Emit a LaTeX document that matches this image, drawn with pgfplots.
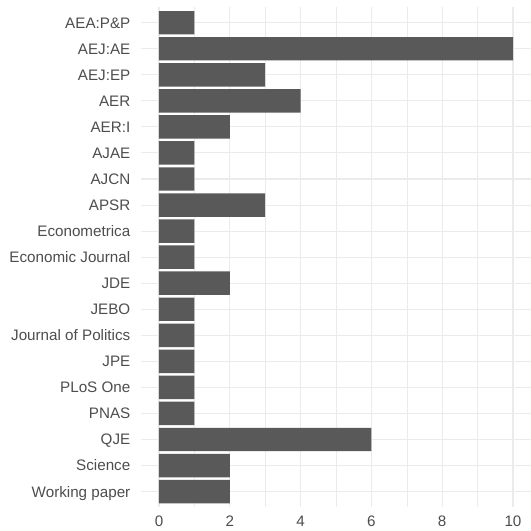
\documentclass[border=0pt]{standalone}
\usepackage{fontspec}
\setmainfont{Liberation Sans}
\usepackage{pgfplots}
\pgfplotsset{compat=1.18}
\definecolor{barfill}{HTML}{595959}
\definecolor{gridc}{HTML}{EBEBEB}
\definecolor{txt}{HTML}{4D4D4D}
\begin{document}
\begin{tikzpicture}
\begin{axis}[
  at={(0,0)}, anchor=south west,
  scale only axis, width=389.4bp, height=500.1bp,
  xmin=-0.5, xmax=10.5, ymin=0.4, ymax=19.6,
  y dir=reverse,
  axis line style={draw=none},
  tick style={draw=none},
  xtick={0,2,...,10}, minor xtick={1,3,...,9},
  ytick={1,...,19},
  yticklabels={AEA:P\&P, AEJ:AE, AEJ:EP, AER, AER:I, AJAE, AJCN, APSR,
    Econometrica, Economic Journal, JDE, JEBO, Journal of Politics, JPE,
    PLoS One, PNAS, QJE, Science, Working paper},
  major tick length=0pt, minor tick length=0pt,
  xmajorgrids, xminorgrids, ymajorgrids,
  major grid style={gridc, line width=1.07bp},
  minor grid style={gridc, line width=0.53bp},
  tick label style={font=\fontsize{15.2bp}{17bp}\selectfont, text=txt},
  xticklabel style={anchor=north, inner sep=0pt, yshift=-8.6bp},
  yticklabel style={anchor=base east, inner sep=0pt, xshift=-10.8bp, yshift=-5.44bp},
  /pgf/number format/assume math mode=true,
  xbar, bar width=0.9, bar shift=0pt,
]
\addplot[fill=barfill, draw=none] coordinates {
  (1,1) (10,2) (3,3) (4,4) (2,5) (1,6) (1,7) (3,8) (1,9) (1,10)
  (2,11) (1,12) (1,13) (1,14) (1,15) (1,16) (6,17) (2,18) (2,19)
};
\end{axis}
\pgfresetboundingbox
\path (-141.3bp,-23.8bp) rectangle ++(531bp,531bp);
\end{tikzpicture}
\end{document}
